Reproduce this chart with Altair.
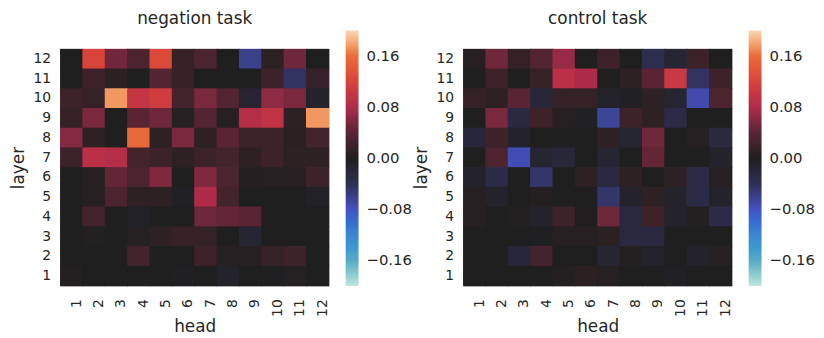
import altair as alt
import pandas as pd

heads = list(range(1, 13))
layers = list(range(12, 0, -1))  # top row first

# rows: layer 12 -> layer 1, columns: head 1 -> 12
negation = [
    [0.000, 0.120, 0.052, 0.030, 0.125, 0.015, 0.030, 0.000, -0.060, 0.010, 0.050, 0.000],
    [0.000, 0.020, 0.008, 0.000, 0.035, 0.015, 0.000, 0.000, 0.000, 0.020, -0.045, 0.015],
    [0.020, 0.015, 0.175, 0.100, 0.110, 0.025, 0.055, 0.035, -0.012, 0.065, 0.055, -0.010],
    [0.015, 0.055, 0.000, 0.040, 0.050, 0.005, 0.035, 0.005, 0.085, 0.095, 0.010, 0.175],
    [0.060, 0.010, 0.000, 0.155, 0.010, 0.055, 0.010, 0.040, 0.020, 0.020, 0.008, 0.025],
    [0.020, 0.090, 0.085, 0.025, 0.020, 0.010, 0.020, 0.025, 0.010, 0.020, 0.010, 0.010],
    [0.000, 0.005, 0.045, 0.030, 0.058, 0.000, 0.058, 0.030, 0.003, 0.005, 0.005, 0.020],
    [0.000, 0.005, 0.030, 0.010, 0.010, -0.005, 0.080, 0.025, 0.000, 0.000, 0.000, -0.006],
    [0.000, 0.025, 0.000, -0.006, 0.000, 0.000, 0.050, 0.045, 0.040, 0.000, 0.000, 0.000],
    [0.000, 0.002, 0.000, 0.004, 0.010, 0.015, 0.015, 0.000, -0.015, 0.000, 0.000, 0.000],
    [0.000, 0.000, 0.000, 0.025, 0.000, 0.000, 0.020, 0.005, 0.005, 0.015, 0.020, 0.000],
    [0.003, 0.000, 0.000, 0.000, 0.000, -0.002, 0.000, -0.010, 0.000, -0.002, 0.004, 0.000],
]

control = [
    [0.005, 0.050, 0.015, 0.035, 0.070, 0.000, 0.020, 0.000, -0.035, -0.015, 0.020, 0.000],
    [0.000, 0.020, 0.000, 0.015, 0.090, 0.080, 0.000, 0.010, 0.040, 0.105, -0.045, 0.020],
    [0.015, 0.010, 0.040, -0.020, 0.015, 0.015, -0.010, -0.005, 0.010, -0.015, -0.072, 0.030],
    [0.000, 0.055, -0.025, 0.020, 0.005, -0.005, -0.065, 0.020, 0.010, -0.030, 0.000, 0.000],
    [-0.020, 0.020, -0.010, 0.000, 0.000, 0.000, 0.010, -0.015, 0.050, 0.000, 0.005, -0.025],
    [0.000, 0.030, -0.075, -0.015, -0.020, 0.000, -0.015, 0.000, 0.045, 0.000, 0.000, -0.010],
    [-0.010, -0.030, 0.000, -0.048, 0.000, 0.010, -0.025, 0.010, 0.000, 0.010, -0.030, 0.005],
    [0.005, -0.010, 0.000, 0.003, 0.000, 0.000, -0.048, -0.010, 0.010, -0.010, -0.030, -0.010],
    [0.005, 0.000, 0.003, -0.010, 0.020, 0.000, 0.050, -0.025, 0.020, -0.010, 0.003, -0.030],
    [0.000, 0.000, 0.000, -0.003, 0.005, 0.005, 0.008, -0.025, -0.025, 0.000, 0.000, 0.000],
    [0.000, 0.000, -0.020, 0.025, 0.000, 0.000, -0.015, 0.003, -0.010, 0.000, -0.010, 0.005],
    [0.000, 0.000, 0.000, 0.000, 0.003, 0.008, 0.005, 0.000, 0.000, -0.005, 0.000, 0.000],
]

stops = [-0.2, -0.16, -0.12, -0.08, -0.04, 0.0, 0.04, 0.08, 0.12, 0.16, 0.2]
stop_colors = ["#bde6dc", "#56aac8", "#3a86d2", "#4352c4", "#2f2f55", "#1f1f1f",
               "#5a2434", "#ae2c49", "#d8443a", "#ea6d38", "#fcd6b6"]
tick_values = [-0.16, -0.08, 0.0, 0.08, 0.16]


def to_df(rows):
    recs = []
    for li, layer in enumerate(layers):
        for hi, head in enumerate(heads):
            recs.append({"layer": layer, "head": head, "value": rows[li][hi]})
    return pd.DataFrame(recs)


FONT = "DejaVu Sans"
TXT = "#262626"


def panel(rows, title):
    cscale = alt.Scale(type="linear", domain=stops, range=stop_colors, clamp=True)
    return alt.Chart(to_df(rows)).mark_rect(
        width=alt.RelativeBandSize(band=1.04),
        height=alt.RelativeBandSize(band=1.04),
    ).encode(
        x=alt.X("head:O", sort=heads,
                scale=alt.Scale(paddingInner=0, paddingOuter=0),
                axis=alt.Axis(title="head", labelAngle=-90, ticks=False, domain=False,
                              grid=False, labelPadding=13, labelOffset=5,
                              labelFontSize=14, titleFontSize=17,
                              titlePadding=2, labelColor=TXT, titleColor=TXT,
                              titleFontWeight="normal", labelFont=FONT, titleFont=FONT)),
        y=alt.Y("layer:O", sort=layers,
                scale=alt.Scale(paddingInner=0, paddingOuter=0),
                axis=alt.Axis(title="layer", ticks=False, domain=False, grid=False,
                              labelPadding=10, labelFontSize=14, titleFontSize=17,
                              titlePadding=6, labelColor=TXT, titleColor=TXT,
                              titleFontWeight="normal", labelFont=FONT, titleFont=FONT)),
        color=alt.Color("value:Q", scale=cscale,
                        legend=alt.Legend(orient="none", legendX=288, legendY=-19,
                                          direction="vertical", title=None,
                                          gradientLength=258, gradientThickness=13,
                                          gradientStrokeWidth=0, values=tick_values,
                                          format=".2f", labelFontSize=15, labelOffset=8,
                                          labelColor=TXT, labelFont=FONT)),
    ).properties(
        width=271, height=239,
        title=alt.TitleParams(title, fontSize=17, font=FONT, color=TXT,
                              fontWeight="normal", offset=2),
    )


chart = alt.hconcat(
    panel(negation, "negation task"),
    panel(control, "control task"),
    spacing=136,
    bounds="flush",
).resolve_scale(color="independent").configure_view(
    stroke=None
).configure_axis(grid=False).properties(
    padding={"left": 0, "top": 0, "right": 0, "bottom": 0}
).configure(background="white")

chart.save("out.html", embed_options={"renderer": "svg", "actions": False})
